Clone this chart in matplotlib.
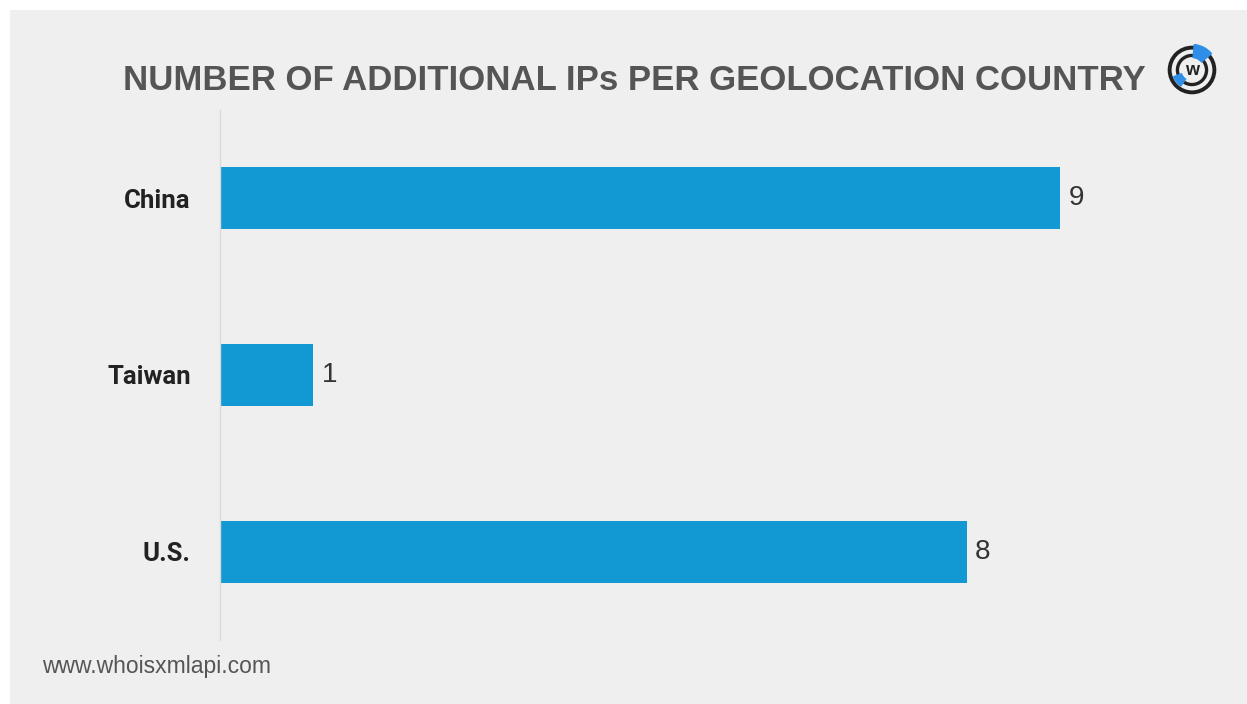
import matplotlib.pyplot as plt
from matplotlib.patches import Rectangle, Circle, Wedge

countries = ['China', 'Taiwan', 'U.S.']
ips = [9, 1, 8]

title = 'NUMBER OF ADDITIONAL IPs PER GEOLOCATION COUNTRY'
footer = 'www.whoisxmlapi.com'

bar_color = '#1299d3'
bg = '#efefef'

W, H = 1247, 704
fig = plt.figure(figsize=(W / 100, H / 100), dpi=100)
fig.patch.set_facecolor('white')
# grey panel with a thin white margin top/left
fig.patches.append(Rectangle((10 / W, 0), 1 - 10 / W, 1 - 10 / H,
                             transform=fig.transFigure, facecolor=bg,
                             edgecolor='none', zorder=-5))

ax = fig.add_axes([220 / W, 1 - 640 / H, (1200 - 220) / W, (640 - 110) / H])
ax.set_facecolor('none')
ax.set_zorder(2)

ypos = list(range(len(countries)))
ax.barh(ypos, ips, height=0.35, color=bar_color, zorder=2)
ax.set_ylim(len(countries) - 0.5, -0.5)
ax.set_xlim(0, 10.5)

for y, v in zip(ypos, ips):
    ax.text(v + 0.09, y, str(v), va='center', ha='left', fontsize=20,
            color='#333333', family='Liberation Sans')

ax.set_yticks(ypos)
ax.set_yticklabels(countries, fontsize=18.5, fontweight='bold', color='#222222',
                   family=['Liberation Sans Narrow', 'Roboto'])
ax.tick_params(axis='y', length=0, pad=21)
ax.set_xticks([])
for s in ['top', 'right', 'bottom']:
    ax.spines[s].set_visible(False)
ax.spines['left'].set_color('#dadada')
ax.spines['left'].set_linewidth(1.0)

fig.text(634 / W, 1 - 80 / H, title, ha='center', va='center', fontsize=25,
         fontweight='bold', color='#555555', family='Liberation Sans')
fig.text(42 / W, 1 - 667 / H, footer, ha='left', va='center', fontsize=16.5,
         color='#555555', family='Liberation Sans')

# small logo in the top right corner
lax = fig.add_axes([1166 / W, 1 - 96 / H, 52 / W, 52 / H])
lax.set_zorder(3)
lax.set_xlim(-1, 1)
lax.set_ylim(-1, 1)
lax.set_aspect('equal')
lax.axis('off')
lax.add_patch(Circle((0, 0), 0.86, fill=False, lw=2.8, color='#222222'))
lax.add_patch(Circle((0, 0), 0.56, fill=False, lw=2.4, color='#222222'))
lax.add_patch(Wedge((0, 0), 0.98, 40, 85, width=0.5, color='#2f8fe8'))
lax.add_patch(Wedge((0, 0), 0.75, 200, 235, width=0.32, color='#2f8fe8'))
lax.text(0, -0.02, 'w', ha='center', va='center', fontsize=13,
         fontweight='bold', color='#222222', family='Liberation Sans')

fig.savefig('out.png', dpi=100, facecolor=fig.get_facecolor())
